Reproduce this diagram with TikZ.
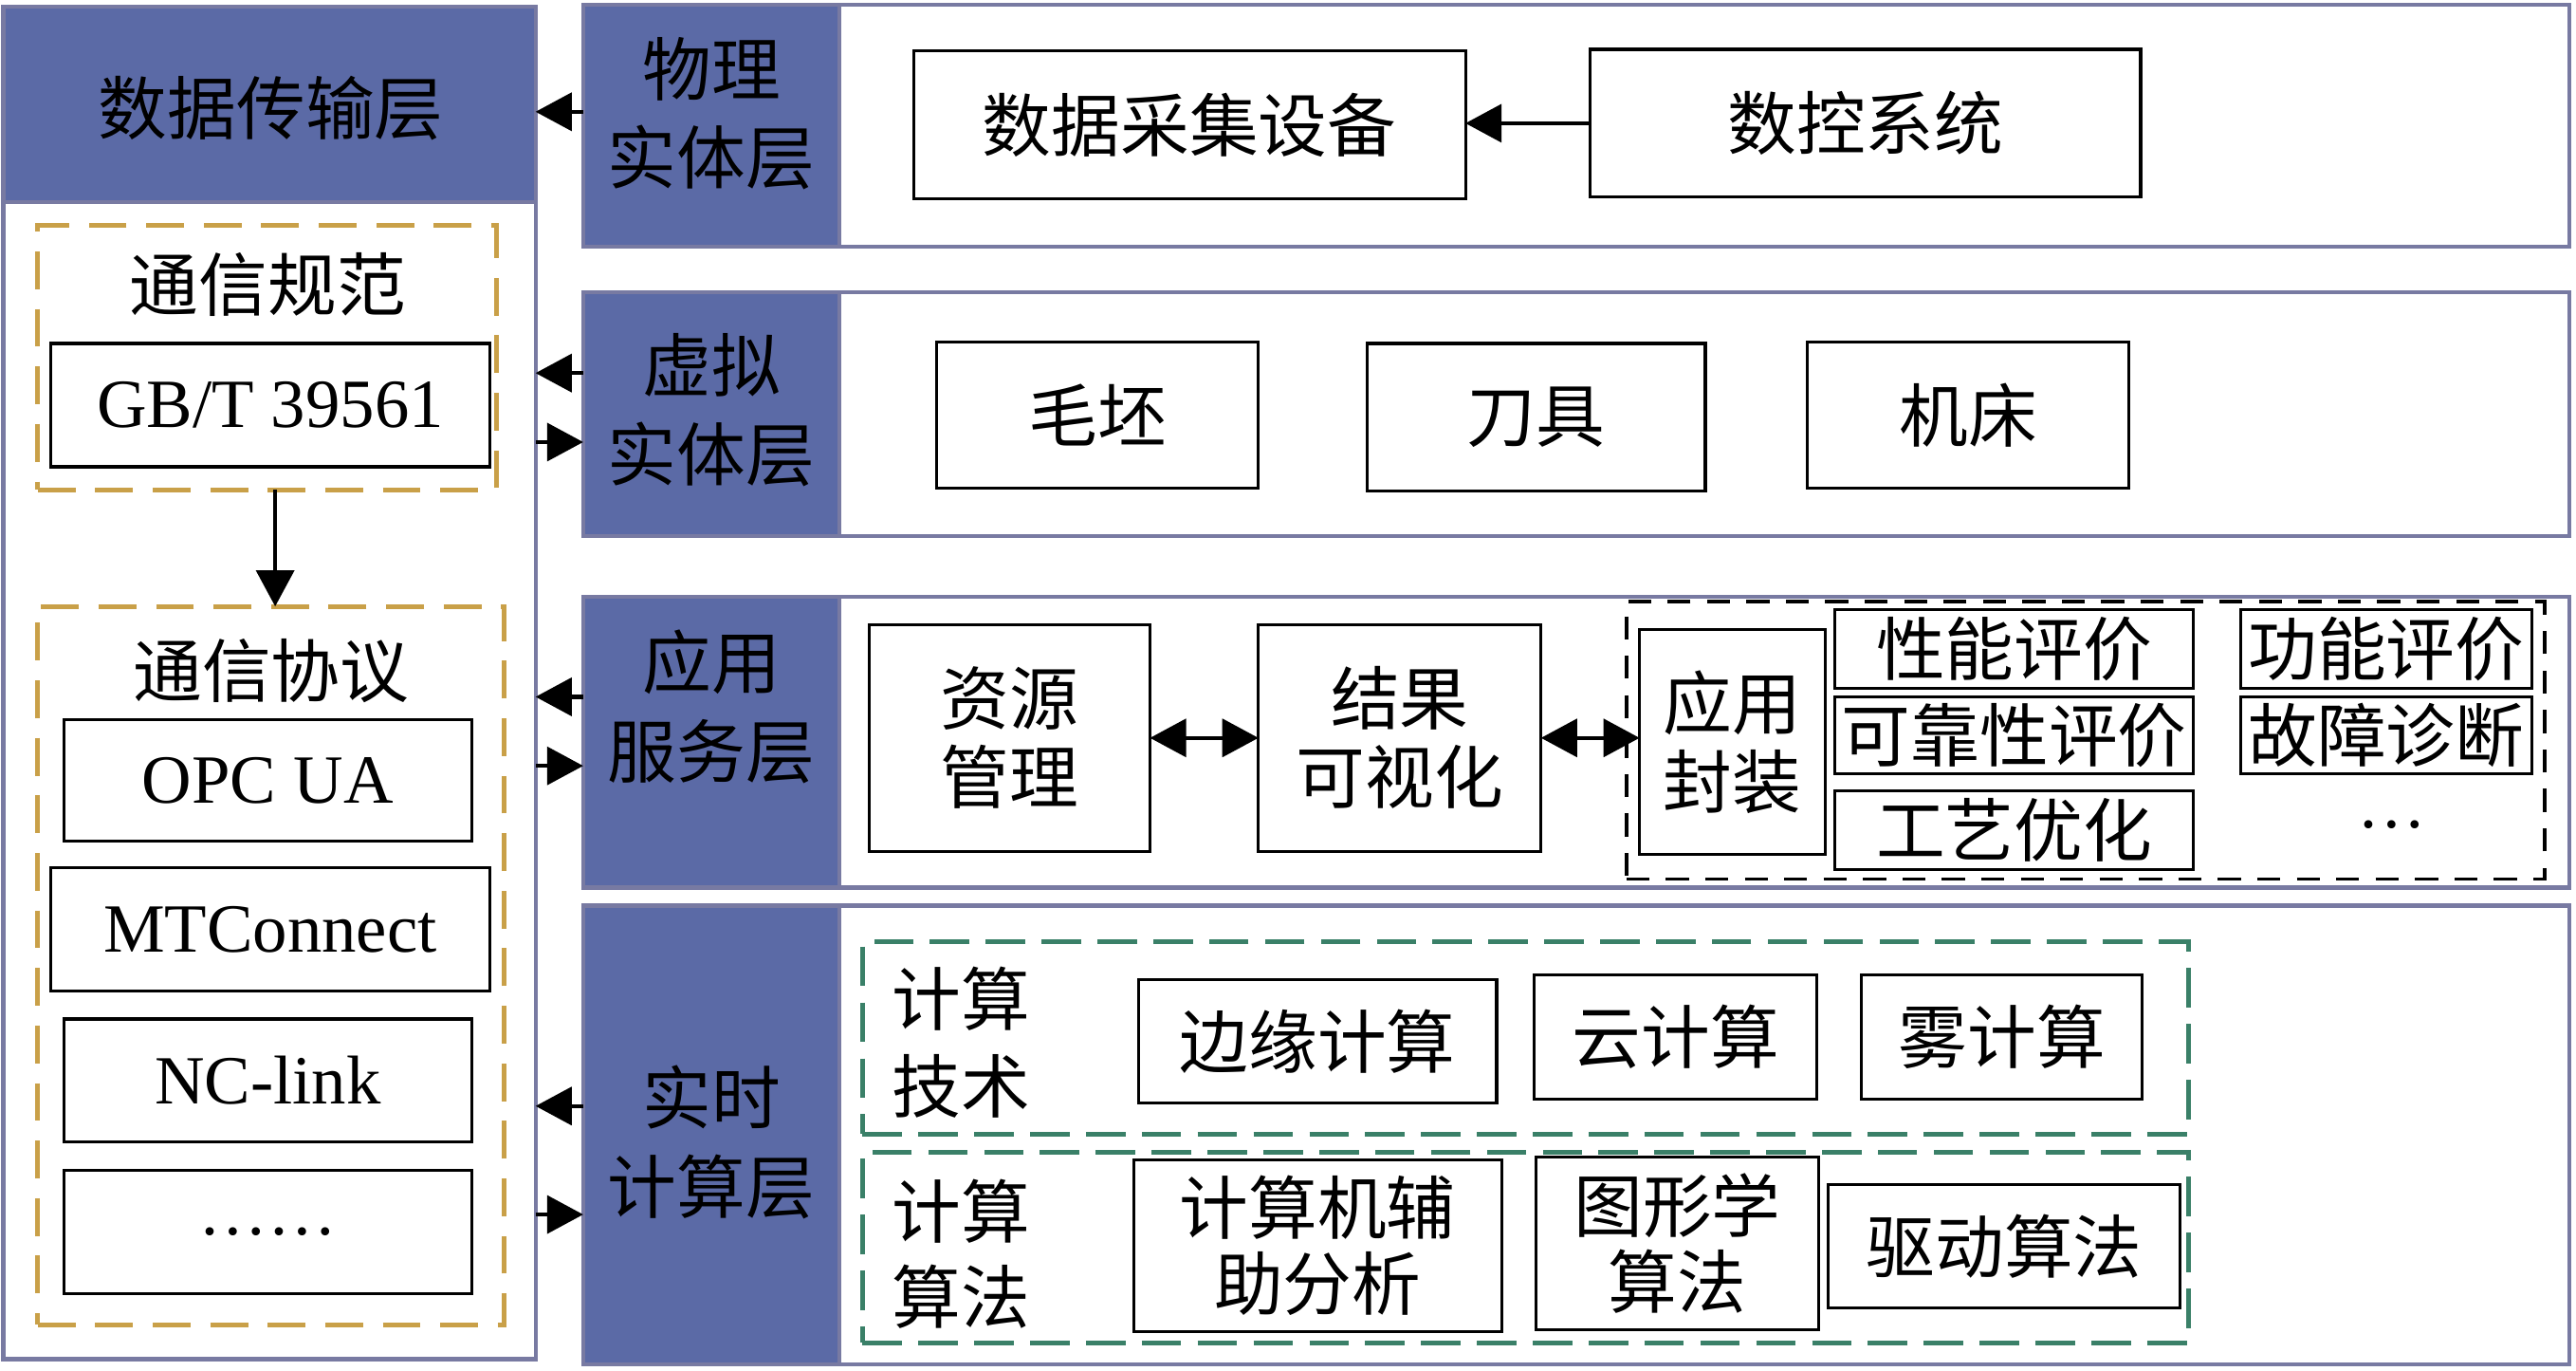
\documentclass[tikz,border=0pt]{standalone}
\usepackage{fontspec}
\setmainfont{Liberation Serif}
\newfontfamily\cjk{Noto Sans CJK SC}
\usetikzlibrary{arrows.meta,fit,calc}
\definecolor{lblue}{RGB}{91,106,166}
\definecolor{pedge}{RGB}{120,122,162}
\definecolor{gold}{RGB}{201,160,72}
\definecolor{dgreen}{RGB}{58,128,104}
\tikzset{
  fbox/.style={inner sep=0pt, outer sep=0pt},
  panel/.style={fbox, draw=pedge, line width=1.25pt, fill=white},
  strip/.style={fbox, fill=lblue, draw=pedge, line width=1.25pt},
  itembox/.style={fbox, draw=black, line width=0.9pt, fill=white},
  cnin/.style={font=\cjk\fontsize{21}{24}\selectfont, align=center, inner sep=0pt},
  cnin2/.style={font=\cjk\fontsize{21}{23}\selectfont, align=center, inner sep=0pt},
  enin/.style={font=\fontsize{21}{24}\selectfont, align=center, inner sep=0pt},
  golddash/.style={fbox, draw=gold, line width=1.5pt, dash pattern=on 11.5pt off 6pt},
  greendash/.style={fbox, draw=dgreen, line width=1.5pt, dash pattern=on 12pt off 5pt},
  blackdash/.style={fbox, draw=black, line width=1pt, dash pattern=on 7pt off 5pt},
  cnlabel/.style={font=\cjk\fontsize{21}{24}\selectfont, align=center, inner sep=0pt},
  striplabel/.style={font=\cjk\fontsize{21}{27}\selectfont, align=center, inner sep=0pt},
  enlabel/.style={font=\fontsize{21}{24}\selectfont, inner sep=0pt},
  arr/.style={line width=1.25pt, -{Triangle[length=11pt,width=11.5pt]}},
  darr/.style={line width=1.25pt, {Triangle[length=11pt,width=11.5pt]}-{Triangle[length=11pt,width=11.5pt]}},
}
\begin{document}
\begin{tikzpicture}[x=0.5pt,y=-0.5pt]
\useasboundingbox (0,0) rectangle (1568,833.65);
% ---------- left: data transfer layer ----------
\node[panel, fit={(2,4) (326,827)}] (dtl) {};
\node[strip, fit={(2,4) (326,123)}] (dth) {};
\node[cnlabel] (dtht) at (165,66) {数据传输层};
\node[golddash, fit={(23,137) (302,298)}] (spec) {};
\node[cnlabel] (spect) at (163,173) {通信规范};
\node[itembox, fit={(31,209) (298,284)}, label={[enin]center:GB/T 39561}] (gbt) {};
\node[golddash, fit={(23,369) (307,806)}] (proto) {};
\node[cnlabel] (protot) at (165,408) {通信协议};
\node[itembox, fit={(39,438) (287,512)}, label={[enin]center:OPC UA}] (opc) {};
\node[itembox, fit={(31,528) (298,603)}, label={[enin]center:MTConnect}] (mtc) {};
\node[itembox, fit={(39,620) (287,695)}, label={[enin]center:NC-link}] (ncl) {};
\node[itembox, fit={(39,712) (287,787)}, label={[enin]center:……}] (etc) {};
\coordinate (sdn) at ($(spec.south)+(5,0)$);
\draw[arr] (sdn) -- (sdn |- proto.north);
% ---------- physical entity layer ----------
\node[panel, fit={(355,3) (1564,150)}] (phyp) {};
\node[strip, fit={(355,3) (511,150)}] (phy) {};
\node[striplabel] (phyt) at (433,69) {物理\\实体层};
\node[itembox, fit={(556,31) (892,121)}, label={[cnin]center:数据采集设备}] (daq) {};
\node[itembox, fit={(968,30) (1303,120)}, label={[cnin]center:数控系统}] (cnc) {};
\draw[arr] (cnc.west) -- (cnc.west -| daq.east);
\draw[arr] ($(phy.west)+(0,-8.5)$) -- ($(phy.west -| dtl.east)+(0,-8.5)$);
% ---------- virtual entity layer ----------
\node[panel, fit={(355,178) (1564,326)}] (virp) {};
\node[strip, fit={(355,178) (511,326)}] (vir) {};
\node[striplabel] (virt) at (433,249.5) {虚拟\\实体层};
\node[itembox, fit={(570,208) (766,297)}, label={[cnin]center:毛坯}] (blank) {};
\node[itembox, fit={(832,209) (1038,299)}, label={[cnin]center:刀具}] (tool) {};
\node[itembox, fit={(1100,208) (1296,297)}, label={[cnin]center:机床}] (mach) {};
\draw[arr] ($(vir.west)+(0,-25)$) -- ($(vir.west -| dtl.east)+(0,-25)$);
\draw[arr] ($(vir.west -| dtl.east)+(0,17)$) -- ($(vir.west)+(0,17)$);
% ---------- application service layer ----------
\node[panel, fit={(355,363) (1564,540)}] (appp) {};
\node[strip, fit={(355,363) (511,540)}] (app) {};
\node[striplabel] (appt) at (433,430) {应用\\服务层};
\node[itembox, fit={(529,380) (700,518)}, label={[cnin]center:资源\\管理}] (res) {};
\node[itembox, fit={(766,380) (938,518)}, label={[cnin]center:结果\\可视化}] (vis) {};
\node[blackdash, fit={(990,366) (1549,535)}] (wrap) {};
\node[itembox, fit={(998,383) (1111,520)}, label={[cnin]center:应用\\封装}] (pkg) {};
\node[itembox, fit={(1117,371) (1335,419)}, label={[cnin]center:性能评价}] (perf) {};
\node[itembox, fit={(1117,424) (1335,471)}, label={[cnin]center:可靠性评价}] (rel) {};
\node[itembox, fit={(1117,481) (1335,529)}, label={[cnin]center:工艺优化}] (proc) {};
\node[itembox, fit={(1364,371) (1541,419)}, label={[cnin]center:功能评价}] (func) {};
\node[itembox, fit={(1364,424) (1541,471)}, label={[cnin]center:故障诊断}] (diag) {};
\node[enlabel] (more) at (1456,502) {…};
\draw[darr] (res.east) -- (vis.west);
\draw[darr] (vis.east) -- (vis.east -| pkg.west);
\draw[arr] ($(app.west)+(0,-27.5)$) -- ($(app.west -| dtl.east)+(0,-27.5)$);
\draw[arr] ($(app.west -| dtl.east)+(0,14.5)$) -- ($(app.west)+(0,14.5)$);
% ---------- real-time computing layer ----------
\node[panel, fit={(355,551) (1564,830)}] (rtp) {};
\node[strip, fit={(355,551) (511,830)}] (rt) {};
\node[striplabel] (rtt) at (433,695) {实时\\计算层};
\node[greendash, fit={(525,573) (1332,690)}] (tech) {};
\node[cnlabel, font=\cjk\fontsize{21}{26.5}\selectfont] (techt) at (585,634.5) {计算\\技术};
\node[itembox, fit={(693,596) (911,671)}, label={[cnin]center:边缘计算}] (edge) {};
\node[itembox, fit={(934,593) (1106,669)}, label={[cnin]center:云计算}] (cloud) {};
\node[itembox, fit={(1133,593) (1304,669)}, label={[cnin]center:雾计算}] (fog) {};
\node[greendash, fit={(525,701) (1332,817)}] (alg) {};
\node[cnlabel, font=\cjk\fontsize{21}{26}\selectfont] (algt) at (585,763) {计算\\算法};
\node[itembox, fit={(690,706) (914,810)}, label={[cnin2]center:计算机辅\\助分析}] (cae) {};
\node[itembox, fit={(935,704) (1107,809)}, label={[cnin2]center:图形学\\算法}] (gra) {};
\node[itembox, fit={(1113,721) (1327,796)}, label={[cnin]center:驱动算法}] (drv) {};
\draw[arr] ($(rt.west)+(0,-17.5)$) -- ($(rt.west -| dtl.east)+(0,-17.5)$);
\draw[arr] ($(rt.west -| dtl.east)+(0,48.5)$) -- ($(rt.west)+(0,48.5)$);
\end{tikzpicture}
\end{document}
